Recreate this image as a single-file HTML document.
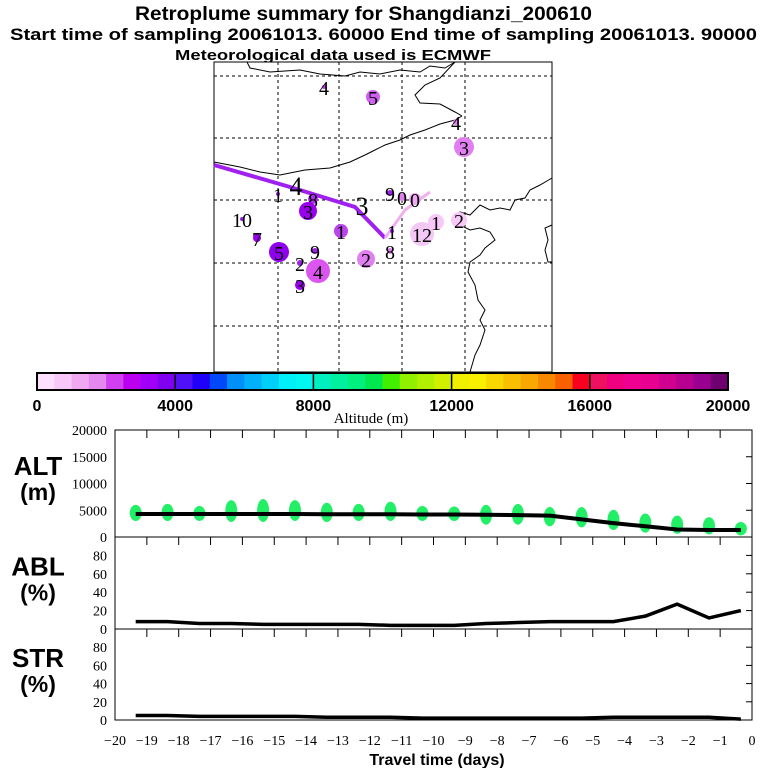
<!DOCTYPE html>
<html><head><meta charset="utf-8"><style>
body{margin:0;background:#fff;}
svg{display:block;font-family:"Liberation Sans",sans-serif;}
.t{font-weight:bold;}
.s{font-family:"Liberation Serif",serif;}
</style></head><body>
<svg id="svg" width="768" height="768" viewBox="0 0 768 768" xmlns="http://www.w3.org/2000/svg">
<text x="135" y="20" textLength="457" lengthAdjust="spacingAndGlyphs" font-size="19" class="t">Retroplume summary for Shangdianzi_200610</text>
<text x="10" y="40" textLength="747" lengthAdjust="spacingAndGlyphs" font-size="17" class="t">Start time of sampling 20061013. 60000     End time of sampling 20061013. 90000</text>
<text x="175" y="60" textLength="316" lengthAdjust="spacingAndGlyphs" font-size="15" class="t">Meteorological data used is ECMWF</text>
<g id="map">
<rect x="214" y="62" width="338" height="310" fill="#fff" stroke="#000"/>
<g stroke="#000" stroke-dasharray="3,3" stroke-width="1">
<line x1="278" y1="62" x2="278" y2="372"/><line x1="339" y1="62" x2="339" y2="372"/><line x1="402" y1="62" x2="402" y2="372"/><line x1="465" y1="62" x2="465" y2="372"/>
<line x1="214" y1="76" x2="552" y2="76"/><line x1="214" y1="138" x2="552" y2="138"/><line x1="214" y1="200" x2="552" y2="200"/><line x1="214" y1="263" x2="552" y2="263"/><line x1="214" y1="326" x2="552" y2="326"/>
</g>
<g fill="none" stroke="#000" stroke-width="1">
<path d="M247,62 L250,68 L270,72 L300,70 L320,74 L345,76 L360,72 L380,74 L400,70 L420,72 L430,66 L445,68 L455,62"/>
<path d="M214,162 L240,167 L260,172 L280,175 L305,170 L330,168 L350,162 L365,155 L375,150 L385,145 L400,140 L410,135 L425,130 L440,124 L455,120 L462,116"/>
<path d="M455,62 L440,78 L425,85 L415,95 L420,103 L440,104 L455,112 L462,116"/>
<path d="M552,178 L540,185 L530,190 L525,198 L515,200 L510,210 L500,208 L490,210 L480,205 L470,215 L460,212 L455,218 L460,225 L470,230 L480,228 L490,232 L495,240 L485,248 L480,255 L470,262 L468,272 L475,285 L478,300 L485,310 L480,320 L485,330 L480,345 L475,355 L470,372"/>
<path d="M552,225 L545,228 L548,240 L545,250 L548,262 L552,262"/>
</g>
<g id="traj">
<polyline points="214,165 290,187 355,207 385,238" fill="none" stroke="#a020f0" stroke-width="4"/>
<polyline points="385,238 405,210 430,192" fill="none" stroke="#f0b0f0" stroke-width="3"/>
</g>
<g id="mapmarks"></g>
</g>
<g id="colorbar"></g>
<text x="371" y="423" text-anchor="middle" font-size="15" class="s">Altitude (m)</text>
<g id="panels"></g>
<text x="437" y="765" text-anchor="middle" font-size="16" class="t">Travel time (days)</text>
</svg>
<script>
const NS="http://www.w3.org/2000/svg";
function mk(tag,attrs,parent,txt){const e=document.createElementNS(NS,tag);for(const k in attrs)e.setAttribute(k,attrs[k]);if(txt!==undefined)e.textContent=txt;parent.appendChild(e);return e;}

// ---- data ----
const days=[-19.35,-18.35,-17.35,-16.35,-15.35,-14.35,-13.35,-12.35,-11.35,-10.35,-9.35,-8.35,-7.35,-6.35,-5.35,-4.35,-3.35,-2.35,-1.35,-0.35];
const altMean=[4300,4300,4300,4300,4300,4300,4250,4250,4250,4200,4200,4150,4100,4000,3300,2600,2000,1400,1300,1300];
const altLow=[3000,3000,3000,2800,2800,3000,2800,3000,3000,3000,3000,2300,2300,2000,1800,1300,800,600,500,300];
const altHigh=[6000,6200,5800,6900,7100,6900,6400,6200,6600,5800,5700,6000,6200,5600,5600,5100,4400,4000,3700,2800];
const ablVals=[8,8,6,6,5,5,5,5,4,4,4,6,7,8,8,8,14,27,12,20];
const strVals=[5,5,4,4,4,4,3,3,3,2,2,2,2,2,2,3,3,3,3,1];
const xTicks=[-20,-19,-18,-17,-16,-15,-14,-13,-12,-11,-10,-9,-8,-7,-6,-5,-4,-3,-2,-1,0];
const altTicks=[0,5000,10000,15000,20000];
const pctTicks=[0,20,40,60,80];
const cbTicks=[0,4000,8000,12000,16000,20000];
const cbColors=["#fde0fd","#f8c8f8","#f0a8f0","#e488f0","#d040f0","#bb00f0","#a000f8","#8000f0",
"#5010f8","#2000f8","#0048f8","#0090f8","#00b0f8","#00d0f8","#00f0f8","#00f8f0",
"#00f0c0","#00f0a0","#00f080","#00e850","#40f000","#90f000","#b0f000","#d0f000",
"#f0f000","#f8f000","#f8d800","#f8c000","#f8a800","#f88800","#f86000","#f80020",
"#f01060","#f00080","#f00090","#e80090","#d00090","#b80090","#9a0090","#700070"];
const mapLabels=[["4",324,94,2,"#c040f0"],["5",373,104,7,"#d060f0"],["4",456,129,3,"#e080f0"],["3",464,154,10,"#e080f0"],
["1",278,201,2,"#a020f0"],["4",296,194,0,"#a020f0"],["8",313,206,5,"#b030f0"],["3",308,218,9,"#9900ee"],
["10",242,226,2,"#a020f0"],["7",257,245,4,"#9900ee"],["5",279,259,10,"#9000ee"],["1",341,238,7,"#bb44ee"],
["3",362,214,0,"#a020f0"],["9",390,200,3,"#a020f0"],["0",402,204,4,"#e080f0"],["0",415,206,6,"#f0a8f0"],
["1",392,238,2,"#a020f0"],["8",390,258,3,"#e080f0"],["2",366,266,9,"#e080f0"],["9",315,258,3,"#a020f0"],
["2",300,270,3,"#a020f0"],["4",318,278,12,"#dd55f0"],["3",300,292,5,"#9900ee"],["12",422,241,12,"#f4c8f4"],
["1",436,229,8,"#f8c8f8"],["2",459,227,8,"#f8c8f8"]];

const mm=document.getElementById('mapmarks');
mapLabels.forEach(function(d){
  if(d[3]>0){const c=mk('circle',{cx:d[1],cy:d[2]-7,r:d[3],fill:d[4]},mm);
    
    }
  const t=mk('text',{x:d[1],y:d[2]+1,'text-anchor':'middle','font-size':(d[0]==="3"&&d[1]===362)||d[1]===296?26:20,'class':'s'},mm,d[0]);
  
  
});

const cb=document.getElementById('colorbar');
const cbX0=37,cbX1=728,cbY=373,cbH=17,cbMax=20000;
function cbx(v){return cbX0+(cbX1-cbX0)*v/cbMax;}
cbColors.forEach(function(c,i){
  const r=mk('rect',{x:cbx(i*500),y:cbY,width:cbx((i+1)*500)-cbx(i*500)+0.5,height:cbH,fill:c},cb);
  
  
});
mk('rect',{x:cbX0,y:cbY,width:cbX1-cbX0,height:cbH,fill:'none',stroke:'#000','stroke-width':2},cb);
cbTicks.forEach(function(v){
  const l=mk('line',{x1:cbx(v),x2:cbx(v),y1:cbY,y2:cbY+cbH,stroke:'#000','stroke-width':1.5},cb);
  
  
  const t=mk('text',{x:cbx(v),y:411,'text-anchor':'middle','font-size':16,'class':'t'},cb,v);
  
  
});

const P=document.getElementById('panels');
const X0=115,X1=752;
function xs(d){return X0+(X1-X0)*(d+20)/20;}
function panel(name,top,bot,max,ticks,label1,label2){
  const g=mk('g',{},P);
  
  
  mk('rect',{x:X0,y:top,width:X1-X0,height:bot-top,fill:'none',stroke:'#000','stroke-width':1},g);
  xTicks.forEach(function(d){if(d>-20&&d<0){mk('line',{x1:xs(d),x2:xs(d),y1:top,y2:top+8,stroke:'#000'},g);}});
  const ys=function(v){return bot-(bot-top)*v/max;};
  ticks.forEach(function(v){
    mk('line',{x1:X1-6,x2:X1,y1:ys(v),y2:ys(v),stroke:'#000'},g);
    const t=mk('text',{x:107,y:ys(v)+5,'text-anchor':'end','font-size':14,'class':'s'},g,v);
    
    
  });
  const a=mk('text',{x:38,y:top+(bot-top)*0.42,'text-anchor':'middle','font-size':26,'class':'t'},g,label1);
  
  
  const b=mk('text',{x:38,y:top+(bot-top)*0.42+25,'text-anchor':'middle','font-size':23,'class':'t'},g,label2);
  
  
  return {g:g,ys:ys};
}
const alt=panel('alt',430,537,20000,altTicks,'ALT','(m)');
days.forEach(function(d,i){
  const e=mk('ellipse',{cx:xs(d),cy:(alt.ys(altLow[i])+alt.ys(altHigh[i]))/2,rx:6,ry:(alt.ys(altLow[i])-alt.ys(altHigh[i]))/2,fill:'#22ee66'},alt.g);
  
  
});
const altLine=mk('polyline',{points:days.map(function(d,i){return xs(d)+','+alt.ys(altMean[i]);}).join(' '),fill:'none',stroke:'#000','stroke-width':4},alt.g);



const abl=panel('abl',537,629,100,pctTicks,'ABL','(%)');
const ablLine=mk('polyline',{points:days.map(function(d,i){return xs(d)+','+abl.ys(ablVals[i]);}).join(' '),fill:'none',stroke:'#000','stroke-width':3.5},abl.g);



const str=panel('str',629,720,100,pctTicks,'STR','(%)');
const strLine=mk('polyline',{points:days.map(function(d,i){return xs(d)+','+str.ys(strVals[i]);}).join(' '),fill:'none',stroke:'#000','stroke-width':3.5},str.g);



xTicks.forEach(function(d){
  const t=mk('text',{x:xs(d),y:745,'text-anchor':'middle','font-size':14,'class':'s'},P,(d<0?'\u2212'+(-d):d));
  
  
});
</script>
</body></html>
